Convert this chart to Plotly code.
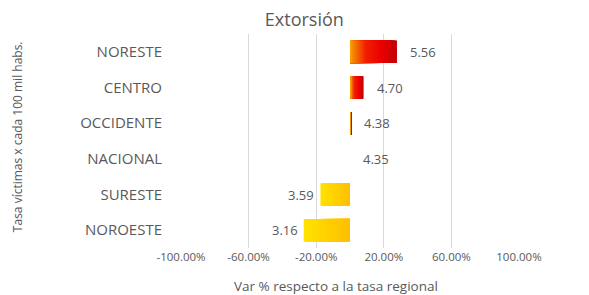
import plotly.graph_objects as go

# ---- data ----
regions = ["NORESTE", "CENTRO", "OCCIDENTE", "NACIONAL", "SURESTE", "NOROESTE"]
rates = ["5.56", "4.70", "4.38", "4.35", "3.59", "3.16"]
var_pct = [0.278, 0.080, 0.007, 0.0, -0.175, -0.274]
tick_vals = [-1.0, -0.6, -0.2, 0.2, 0.6, 1.0]
tick_text = ["-100.00%", "-60.00%", "-20.00%", "20.00%", "60.00%", "100.00%"]

FONT = "Open Sans"
GREY = "#595959"

pos_stops = [(0.0, (246, 165, 0)), (0.35, (242, 30, 0)), (0.7, (232, 0, 0)), (1.0, (192, 0, 8))]
neg_stops = [(0.0, (255, 190, 0)), (1.0, (255, 226, 0))]


def interp(stops, t):
    for (t0, c0), (t1, c1) in zip(stops[:-1], stops[1:]):
        if t <= t1:
            f = (t - t0) / (t1 - t0) if t1 > t0 else 0
            return "rgb(%d,%d,%d)" % tuple(round(a + (b - a) * f) for a, b in zip(c0, c1))
    return "rgb(%d,%d,%d)" % stops[-1][1]


fig = go.Figure()
N = 40
for k in range(N):
    frac = (N - k) / N  # length fraction of this layer
    xs = [v * frac for v in var_pct]
    cols = [interp(pos_stops if v >= 0 else neg_stops, frac) for v in var_pct]
    fig.add_trace(go.Bar(
        y=regions, x=xs, orientation="h",
        marker=dict(color=cols, line=dict(width=0)),
        hoverinfo="skip", showlegend=False,
    ))

# value labels
for r, v, lab in zip(regions, var_pct, rates):
    fig.add_annotation(
        x=v, y=r, xref="x", yref="y", text=lab, showarrow=False,
        xanchor="left" if v >= 0 else "right", xshift=11 if v >= 0 else -4,
        font=dict(family=FONT, size=13, color=GREY),
    )

fig.add_annotation(
    text="Tasa víctimas x cada 100 mil habs.", textangle=-90,
    x=-0.484, y=0.52, xref="paper", yref="paper", showarrow=False,
    xanchor="center", yanchor="middle",
    font=dict(family=FONT, size=12, color=GREY),
)
fig.add_annotation(
    text="Var % respecto a la tasa regional",
    x=0.46, y=-0.178, xref="paper", yref="paper", showarrow=False,
    xanchor="center", yanchor="middle",
    font=dict(family=FONT, size=13.5, color=GREY),
)

fig.update_layout(
    width=581, height=287,
    margin=dict(l=173, r=70, t=26, b=47, autoexpand=False),
    paper_bgcolor="white", plot_bgcolor="white",
    barmode="overlay", bargap=0.37,
    title=dict(text="Extorsión", x=0.51, xanchor="center", y=1 - 11.5 / 287, yanchor="middle",
               font=dict(family=FONT, size=18, color=GREY)),
    xaxis=dict(range=[-1.0, 1.0], tickvals=tick_vals, ticktext=tick_text,
               showgrid=True, gridcolor="#d9d9d9", gridwidth=1, zeroline=False,
               showline=False, ticks="", automargin=False,
               tickfont=dict(family=FONT, size=11.5, color=GREY)),
    yaxis=dict(categoryorder="array", categoryarray=regions[::-1],
               showgrid=False, zeroline=False, showline=False, ticks="",
               ticklabelstandoff=18, automargin=False,
               tickfont=dict(family=FONT, size=15, color=GREY)),
)

fig.write_html("out.html")
